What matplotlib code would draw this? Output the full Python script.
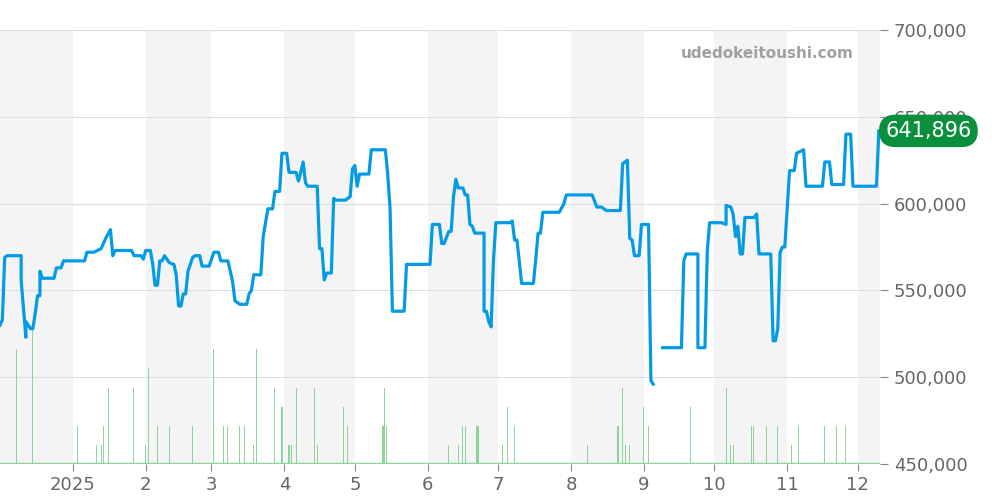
import matplotlib
matplotlib.use("Agg")
import matplotlib.pyplot as plt
import pandas as pd
import numpy as np

start = pd.Timestamp("2024-12-01")
price_days = [0,1,2,3,9,9,11,11,13,14,15,16,17,17,18,23,24,26,27,36,37,40,43,45,47,48,49,56,57,60,61,62,64,65,66,67,68,69,70,72,74,75,76,77,78,79,80,82,83,85,86,89,91,93,94,95,97,98,99,100,102,105,106,107,108,109,111,112,113,114,116,117,119,120,122,123,126,127,128,129,130,131,135,136,137,138,139,141,142,143,147,148,149,150,151,152,153,157,158,164,165,166,167,172,173,183,184,187,188,189,191,192,193,194,195,197,198,199,200,201,202,206,206,207,208,209,210,211,217,218,219,220,222,227,228,229,230,231,238,240,241,252,254,256,258,264,265,267,268,269,270,272,273,276,277,278,
              280,282,290,291,292,297,297,300,301,302,307,309,309,311,312,313,314,315,316,317,321,322,323,328,329,330,331,332,333,334,336,338,339,342,343,350,351,353,354,359,360,362,363,373,374]
price_k = [530,533,569,570,570,556,523,532,528,528,537,547,547,561,557,557,563,563,567,567,572,572,574,580,585,570,573,573,570,570,568,573,573,565,553,553,567,567,570,566,565,559,541,541,548,548,561,569,570,570,564,564,572,572,567,567,567,561,555,544,542,542,548,550,559,559,559,581,589,597,597,607,607,629,629,618,618,613,618,624,612,610,610,574,574,556,560,560,603,602,602,603,604,620,622,610,617,617,631,631,617,597,538,538,565,565,588,588,577,577,584,584,604,614,609,609,605,605,588,587,583,583,538,538,532,529,567,589,589,590,579,579,554,554,568,583,583,595,595,600,605,605,598,598,596,596,623,625,580,579,570,570,588,588,498,496,
           np.nan,517,517,567,571,571,517,517,573,589,589,588,599,598,594,581,587,571,571,592,592,594,571,571,521,521,528,572,575,575,619,619,629,631,610,610,624,624,611,611,640,640,610,610,641.896]

vol_days = [7,14,33,41,43,44,46,57,62,63,67,72,82,91,95,97,102,104,108,109,117,120,123,124,126,134,135,146,148,163,163.8,164.6,191,195,197,198,203,203.8,214,216,219,250,263,265,266,268,274,276,294,309,311,312,320,320.8,326,331,337,340,351,356,360]
vol_cnt = [6,7,2,1,1,2,4,4,1,5,2,2,2,6,2,2,2,2,1,6,4,3,1,1,4,4,1,3,2,2,4,2,1,1,2,2,2,2,1,3,2,1,2,4,1,1,3,2,3,4,1,1,2,2,2,2,1,2,2,2,2]
last_label = "641,896"

dates = [start + pd.Timedelta(days=d) for d in price_days]
vdates = [start + pd.Timedelta(days=d) for d in vol_days]
vals = np.array(price_k, dtype=float) * 1000

fig = plt.figure(figsize=(10, 5), dpi=100)
ax = fig.add_axes([0.0, 0.072, 0.88, 0.868])
end = start + pd.Timedelta(days=374.5)

m = start
i = 0
while m < end:
    nm = m + pd.offsets.MonthBegin(1)
    if i % 2 == 0:
        ax.axvspan(m, min(nm, end), color="#f4f4f4", zorder=0, lw=0)
    m = nm
    i += 1

ax.set_xlim(start, end)
ax.set_ylim(450000, 700000)
ax.grid(axis="y", color="#dddddd", lw=0.8, zorder=1)
for s in ax.spines.values():
    s.set_visible(False)

ticks = [pd.Timestamp(f"2025-{mm:02d}-01") for mm in range(1, 13)]
ax.set_xticks(ticks)
ax.set_xticklabels(["2025"] + [str(mm) for mm in range(2, 13)])

ax2 = ax.twinx()
ax2.set_ylim(0, 22.7)
ax2.set_yticks([])
for s in ax2.spines.values():
    s.set_visible(False)
ax2.bar(vdates, vol_cnt, width=0.45, color="#8fd39c", zorder=2)
ax2.axhline(0.05, color="#8fd39c", lw=1)

ax3 = ax.twinx()
ax3.set_ylim(450000, 700000)
ax3.set_yticks(np.arange(450000, 700001, 50000))
ax3.set_yticklabels([f"{v:,}" for v in range(450000, 700001, 50000)])
for s in ax3.spines.values():
    s.set_visible(False)
ax3.plot(dates, vals, color="#049be5", lw=2.3, zorder=3, solid_joinstyle="round")
ax3.tick_params(axis="y", colors="#888888", labelsize=13, length=6, pad=4, labelcolor="#666666")
ax.tick_params(axis="x", colors="#888888", labelsize=13, length=5, labelcolor="#666666")
ax.tick_params(axis="y", left=False, labelleft=False)

ax3.text(0.97, 0.945, "udedokeitoushi.com", transform=ax.transAxes, ha="right", va="center",
         fontsize=11, fontweight="bold", color="#a0a0a0")
ax3.text(1.055, (vals[-1] - 450000) / 250000, last_label, transform=ax.transAxes, ha="center", va="center",
         fontsize=15, color="white", clip_on=False, zorder=10,
         bbox=dict(boxstyle="round,pad=0.3,rounding_size=0.8", fc="#0a8f3c", ec="none"))

fig.savefig("out.png")
